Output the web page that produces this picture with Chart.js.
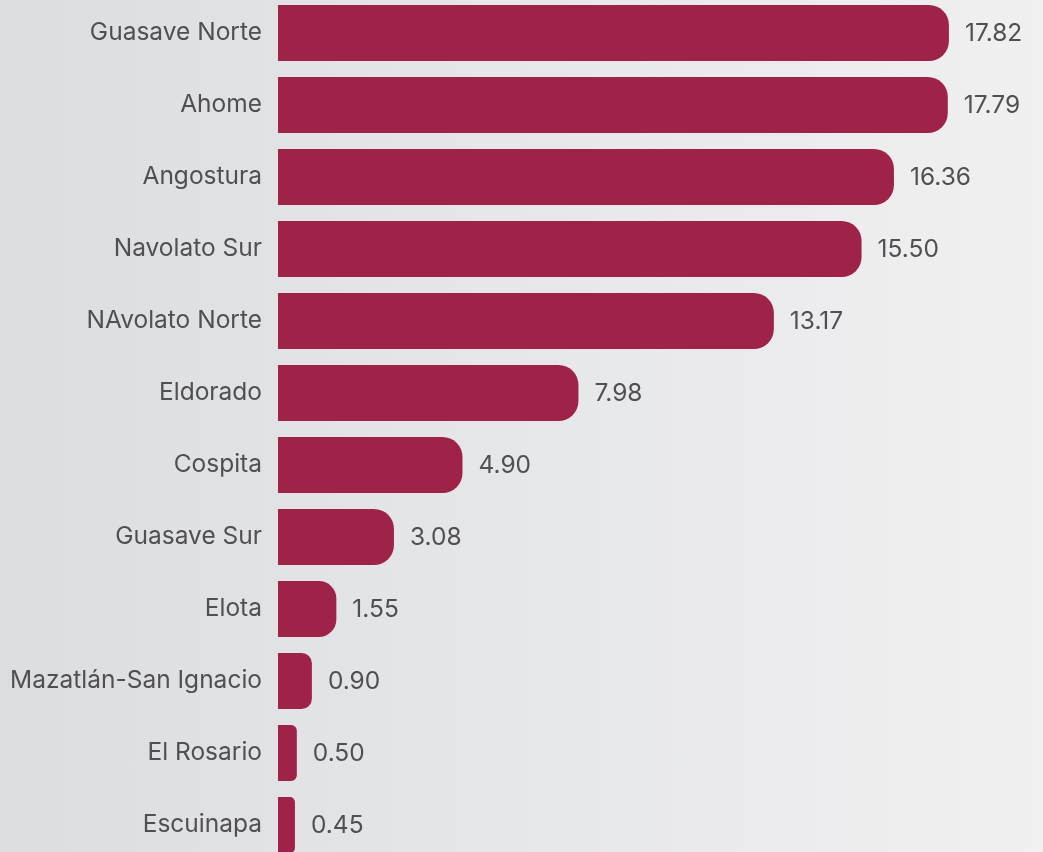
<!DOCTYPE html>
<html>
<head>
<meta charset="utf-8">
<script src="https://cdn.jsdelivr.net/npm/chart.js@4.4.1/dist/chart.umd.min.js"></script>
<style>
  html, body { margin: 0; padding: 0; overflow: hidden; }
  body {
    width: 1043px; height: 852px; position: relative;
    background: linear-gradient(to right, #dcdde0 0%, #e5e6e8 45%, #f0f0f1 100%);
  }
  #wrap { position: absolute; left: 0; top: -3px; width: 1043px; height: 864px; }
</style>
</head>
<body>
<div id="wrap"><canvas id="barChart" width="1043" height="864"></canvas></div>
<script>
// data
const categories = ["Guasave Norte", "Ahome", "Angostura", "Navolato Sur", "NAvolato Norte",
  "Eldorado", "Cospita", "Guasave Sur", "Elota", "Mazatlán-San Ignacio", "El Rosario", "Escuinapa"];
const values = [17.82, 17.79, 16.36, 15.50, 13.17, 7.98, 4.90, 3.08, 1.55, 0.90, 0.50, 0.45];

const barColor = "#9f2349";
const textColor = "#505052";
const family = "Inter, 'Noto Sans', sans-serif";

// pick a font size so the longest label is about as wide as in the original
const probe = document.createElement("canvas").getContext("2d");
probe.font = "22px " + family;
const longest = Math.max(...categories.map(c => probe.measureText(c).width));
const fontSize = Math.round(22 * 252 / longest * 10) / 10;

// value labels at the end of each bar
const valueLabels = {
  id: "valueLabels",
  afterDatasetsDraw(chart) {
    const ctx = chart.ctx;
    const meta = chart.getDatasetMeta(0);
    ctx.save();
    ctx.font = fontSize + "px " + family;
    ctx.fillStyle = textColor;
    ctx.textAlign = "left";
    ctx.textBaseline = "middle";
    meta.data.forEach((bar, i) => {
      ctx.fillText(values[i].toFixed(2), bar.x + 16, bar.y + 1);
    });
    ctx.restore();
  }
};

const ctx = document.getElementById("barChart").getContext("2d");
new Chart(ctx, {
  type: "bar",
  data: {
    labels: categories,
    datasets: [{
      data: values,
      backgroundColor: barColor,
      borderWidth: 0,
      borderSkipped: "start",
      barPercentage: 56 / 72,
      categoryPercentage: 1,
      borderRadius: (c) => {
        const r = Math.min(20, (c.raw || 0) * 37.65 * 0.3);
        return { topRight: r, bottomRight: r, topLeft: 0, bottomLeft: 0 };
      }
    }]
  },
  options: {
    indexAxis: "y",
    responsive: false,
    animation: false,
    layout: { padding: { left: 0, right: 12, top: 0, bottom: 0 } },
    plugins: {
      legend: { display: false },
      tooltip: { enabled: false }
    },
    scales: {
      x: {
        display: false,
        min: 0,
        max: 20
      },
      y: {
        grid: { display: false, drawTicks: false },
        border: { display: false },
        ticks: {
          color: textColor,
          font: { family: family, size: fontSize },
          padding: 16,
          autoSkip: false
        },
        afterFit: (scale) => {
          scale.width = 278;
          scale.paddingTop = 0;
          scale.paddingBottom = 0;
        }
      }
    }
  },
  plugins: [valueLabels]
});
</script>
</body>
</html>
